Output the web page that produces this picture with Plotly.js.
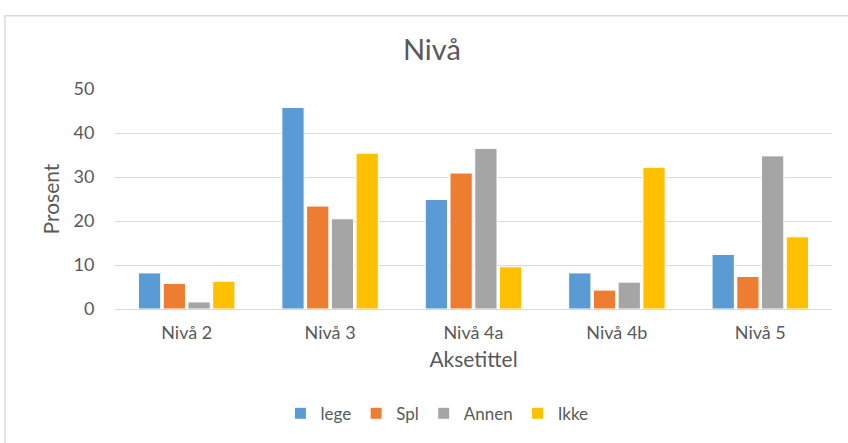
<!DOCTYPE html>
<html>
<head>
<meta charset="utf-8">
<script src="https://cdn.plot.ly/plotly-3.0.1.min.js"></script>
<style>html,body{margin:0;padding:0;background:#fff;}#chart{width:848px;height:443px;}</style>
</head>
<body>
<div id="chart"></div>
<script>
const categories = ["Nivå 2", "Nivå 3", "Nivå 4a", "Nivå 4b", "Nivå 5"];
const seriesNames = ["lege", "Spl", "Annen", "Ikke"];
const lege  = [8.2, 45.8, 24.9, 8.2, 12.4];
const spl   = [5.8, 23.4, 30.9, 4.3, 7.4];
const annen = [1.6, 20.5, 36.5, 6.1, 34.8];
const ikke  = [6.3, 35.4, 9.6, 32.2, 16.4];
const colors = ["#5B9BD5", "#ED7D31", "#A5A5A5", "#FFC000"];

const values = [lege, spl, annen, ikke];
const traces = values.map((v, i) => ({
  type: 'bar',
  name: seriesNames[i],
  x: categories,
  y: v,
  marker: {color: colors[i], line: {color: '#ffffff', width: 1}},
  hoverinfo: 'none'
}));

const font = 'Lato, "Liberation Sans", sans-serif';
const layout = {
  width: 848, height: 443,
  margin: {l: 115, r: 16, t: 89, b: 129},
  paper_bgcolor: '#ffffff', plot_bgcolor: '#ffffff',
  font: {family: font, color: '#595959', size: 18},
  title: {text: 'Nivå', font: {size: 29, color: '#595959', family: font},
          xref: 'paper', x: 0.442, xanchor: 'center',
          yref: 'container', y: 1 - 50/443, yanchor: 'middle'},
  barmode: 'group', bargap: 0.31, bargroupgap: 0.1,
  xaxis: {
    showgrid: false, showline: false, zeroline: false,
    ticks: 'outside', ticklen: 7, tickcolor: 'rgba(0,0,0,0)',
    tickfont: {size: 18, color: '#595959'},
    title: {text: 'Aksetittel', font: {size: 21, color: '#595959'}, standoff: 10}
  },
  yaxis: {
    range: [0, 50], dtick: 10, tick0: 0,
    showgrid: true, gridcolor: '#d9d9d9', gridwidth: 1,
    zeroline: true, zerolinecolor: '#d9d9d9', zerolinewidth: 1,
    showline: false,
    ticks: 'outside', ticklen: 16, tickcolor: 'rgba(0,0,0,0)',
    tickfont: {size: 18, color: '#595959'},
    title: {text: 'Prosent', font: {size: 21, color: '#595959'}, standoff: 8}
  },
  showlegend: true,
  legend: {orientation: 'h', x: 0.449, xanchor: 'center', y: -0.476, yanchor: 'middle',
           font: {size: 17, color: '#595959'}, itemwidth: 30, traceorder: 'normal'},
  shapes: [{type: 'rect', xref: 'paper', yref: 'paper',
            x0: -0.1534, x1: 1.2, y0: -0.7, y1: 1.333,
            line: {color: '#d9d9d9', width: 1.5}, fillcolor: 'rgba(0,0,0,0)', layer: 'below'}]
};

Plotly.newPlot('chart', traces, layout, {displayModeBar: false, staticPlot: true});
</script>
</body>
</html>
